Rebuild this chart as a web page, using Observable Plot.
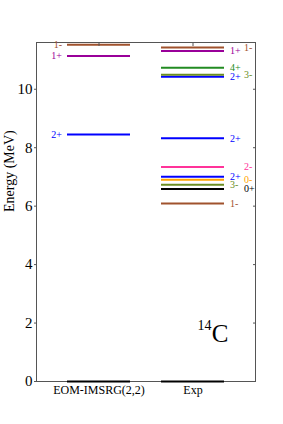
<!DOCTYPE html>
<html>
<head>
<meta charset="utf-8">
<script src="https://cdn.jsdelivr.net/npm/d3@7"></script>
<script src="https://cdn.jsdelivr.net/npm/@observablehq/plot@0.6"></script>
<style>
  html, body { margin: 0; padding: 0; background: #fff; }
</style>
</head>
<body>
<div id="chart"></div>
<script>
// ---- data ----
const categories = ["EOM-IMSRG(2,2)", "Exp"];

const eomEnergies = [0, 8.45, 11.14, 11.52];
const eomJp       = ["0+", "2+", "1+", "1-"];

const expEnergies = [0, 6.09, 6.59, 6.73, 6.90, 7.01, 7.34, 8.32, 10.43, 10.50, 10.74, 11.31, 11.43];
const expJp       = ["0+", "1-", "0+", "3-", "0-", "2+", "2-", "2+", "2+", "3-", "4+", "1+", "1-"];
// labels placed in the second (outer) column on the Exp side
const expOuter    = [false, false, true, false, true, false, true, false, false, true, false, false, true];

const yTicks = [0, 2, 4, 6, 8, 10];
const nucleusMass = "14";
const nucleusSymbol = "C";

// ---- styles ----
const jpDomain = ["0+", "1-", "1+", "2+", "2-", "3-", "4+", "0-"];
const jpColors = ["#000000", "#a0522d", "#990099", "#0000ff", "#ff3399", "#6b8e23", "#228b22", "#ffa500"];

const eomRows = eomEnergies.map((e, i) => ({method: categories[0], energy: e, jp: eomJp[i]}));
const expRows = expEnergies.map((e, i) => ({method: categories[1], energy: e, jp: expJp[i], outer: expOuter[i]}));
const levels = eomRows.concat(expRows);
const blank = () => "";

const chart = Plot.plot({
  width: 283,
  height: 424,
  marginLeft: 36,
  marginRight: 28,
  marginTop: 42,
  marginBottom: 43,
  style: {fontFamily: "'Liberation Serif', 'DejaVu Serif', serif", background: "#fff", color: "#000"},
  x: {type: "band", domain: categories, paddingInner: 0.333, paddingOuter: 0.324, label: null},
  y: {domain: [0, 11.6], label: null},
  color: {domain: jpDomain, range: jpColors},
  marks: [
    Plot.frame({stroke: "#555"}),
    Plot.tickY(levels, {x: "method", y: "energy", stroke: "jp", strokeWidth: 2}),
    Plot.text(eomRows.filter(d => d.energy > 0), {x: "method", y: "energy", text: "jp", fill: "jp", textAnchor: "end", dx: -37, fontSize: 10}),
    Plot.text(expRows.filter(d => d.energy > 0 && !d.outer), {x: "method", y: "energy", text: "jp", fill: "jp", textAnchor: "start", dx: 37, fontSize: 10}),
    Plot.text(expRows.filter(d => d.energy > 0 && d.outer), {x: "method", y: "energy", text: "jp", fill: "jp", textAnchor: "start", dx: 51, fontSize: 10}),
    Plot.axisY({ticks: yTicks, tickSize: 2, tickPadding: 2, fontSize: 15, label: null, stroke: "#555"}),
    Plot.axisY({anchor: "right", ticks: yTicks, tickSize: -3, tickFormat: blank, label: null, stroke: "#555"}),
    Plot.axisX({tickSize: 0, tickPadding: 4, fontSize: 12, label: null}),
    Plot.axisX({anchor: "top", tickSize: -3, tickFormat: blank, label: null, stroke: "#555"}),
    Plot.text(["Energy (MeV)"], {frameAnchor: "left", rotate: -90, dx: -27, fontSize: 14}),
    Plot.text([nucleusSymbol], {frameAnchor: "bottom-right", textAnchor: "end", lineAnchor: "bottom", dx: -27, dy: -40, fontSize: 25}),
    Plot.text([nucleusMass], {frameAnchor: "bottom-right", textAnchor: "end", lineAnchor: "bottom", dx: -44, dy: -52, fontSize: 14})
  ]
});
document.getElementById("chart").appendChild(chart);
</script>
</body>
</html>
